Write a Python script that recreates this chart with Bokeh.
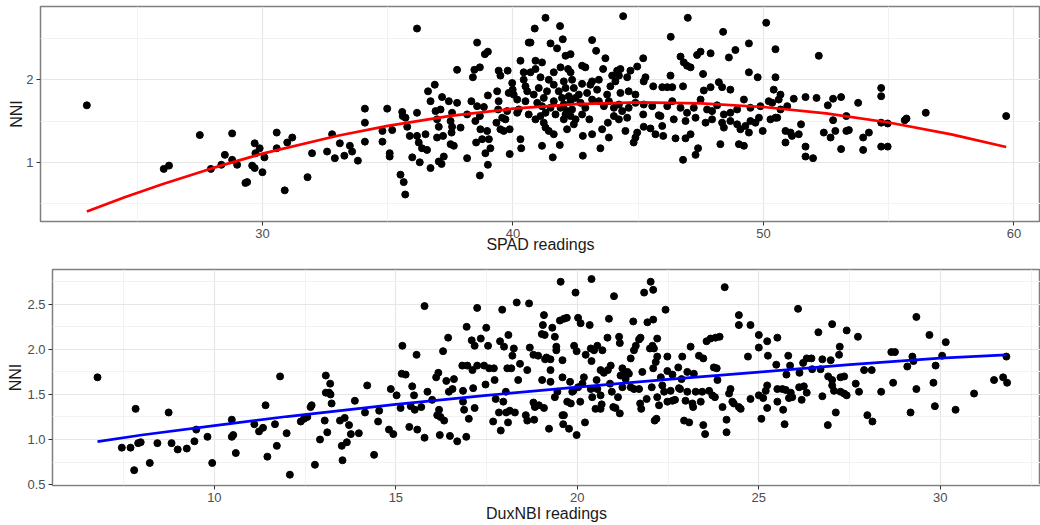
from bokeh.plotting import figure
from bokeh.layouts import column, row
from bokeh.models import FixedTicker, Range1d, PrintfTickFormatter
from bokeh.embed import file_html
from bokeh.resources import INLINE

# ---------------- data: SPAD panel ----------------
spad_x = [
    22.99, 26.06, 26.27, 27.50, 28.79, 27.94, 28.36, 28.50, 28.79, 28.99, 29.32, 29.39, 29.59, 29.69, 29.69,
    29.72, 29.89, 30.08, 30.00, 30.57, 30.57,
    30.89, 30.99, 31.19, 31.80, 31.98, 32.58, 32.78, 32.89, 33.09, 33.27, 33.49, 33.58, 33.81, 34.09, 34.09,
    34.09, 34.79, 34.79, 34.98, 35.08, 35.08, 35.18, 35.51, 35.64, 35.70, 35.58, 35.60, 35.71, 35.78, 35.88,
    35.98, 36.17, 36.17, 36.17, 36.24, 36.28, 36.37, 36.51, 36.57, 36.61, 36.71, 36.71, 36.88, 36.91, 36.97,
    37.04, 36.97, 37.11, 37.15, 37.17, 37.21, 37.24, 37.04, 37.44, 37.51, 37.57, 37.57, 37.55, 37.51, 37.64,
    37.77, 37.77, 37.91, 38.17, 38.17, 38.34, 38.40, 38.46, 38.57, 38.68, 38.50, 38.53, 38.57, 38.70, 38.68,
    38.68, 38.77, 38.84, 38.88, 39.00, 38.90, 38.97, 39.00, 39.00, 39.04, 39.10, 39.37, 39.43, 39.43, 39.50,
    39.41, 39.34, 39.50, 39.57, 39.63, 39.70, 39.79, 39.83, 39.77, 39.87, 39.87, 39.97, 39.99, 40.03, 40.17,
    40.17, 40.30, 40.33, 40.30, 40.23, 40.43, 40.50, 40.50, 40.57, 40.63, 40.63, 40.43,
    41.30, 40.87, 40.70, 41.88, 41.50, 41.99, 41.76, 44.40, 46.98, 50.11, 46.30, 48.39, 43.16, 43.32, 42.30,
    42.10, 40.90, 41.16, 40.70, 40.90, 41.10, 41.43, 41.63, 41.90, 42.20, 42.30, 42.03, 42.36, 42.76, 42.89,
    42.43, 42.10, 42.76, 43.09, 43.16, 43.43, 43.60, 43.69, 43.96, 44.16, 44.29, 44.09, 44.23, 44.56, 44.69,
    44.96, 45.20, 45.29, 45.22, 44.89, 45.60, 45.96, 46.16, 46.36, 46.29, 46.69, 46.82, 46.95, 47.09, 46.79,
    47.35, 47.49, 47.89, 47.59, 47.62, 47.89, 48.22, 48.35, 48.62, 48.88, 49.42, 49.42, 48.68, 49.77, 50.48,
    50.48, 50.41,
    40.83, 41.23, 40.97, 41.16, 41.50, 41.63, 41.90, 42.03, 42.16, 42.36, 42.50, 42.63, 42.70, 42.89, 43.16,
    43.43, 43.63, 43.83, 44.03, 44.23, 44.36, 44.62, 44.89, 45.22, 45.56, 45.82, 46.16, 46.36, 46.69, 46.95,
    47.22, 47.49, 47.75, 47.95, 48.15, 48.42, 48.68, 48.95, 49.22, 49.48, 49.88, 50.21, 50.35,
    40.90, 41.10, 41.23, 41.30, 41.43, 41.16, 41.59, 41.63, 41.87, 42.03, 42.16, 42.30, 42.43, 42.50, 42.79,
    42.79, 43.05, 43.16, 43.49, 43.56, 43.83, 43.79, 44.03, 44.23, 44.49, 44.56, 44.82, 44.89, 44.96, 45.22,
    45.20, 45.49, 45.69, 45.96, 45.89, 46.00, 46.42, 46.49, 46.79, 46.89, 46.89, 47.09, 47.29, 47.29, 47.39,
    47.69, 47.95, 48.28, 48.35, 48.42, 48.68, 48.95, 49.02, 49.08, 49.22, 49.28, 49.42, 49.48, 49.68, 49.82,
    49.97, 50.28, 50.48,
    41.03, 41.36, 41.63, 41.83, 42.23, 41.96, 41.70, 41.30, 42.10, 42.30, 42.76, 42.96, 43.36, 43.76, 43.89,
    44.29, 44.62,
    50.68, 50.61, 50.95, 51.21, 50.68, 50.55, 50.88, 51.08, 50.88, 51.14, 51.41, 51.50, 51.68, 51.68, 51.68,
    51.98, 52.12, 52.21, 52.41, 52.57, 52.68, 52.78, 52.78, 52.87, 53.10, 53.10, 53.31, 53.31, 53.41, 53.78,
    53.98, 53.98, 54.21, 54.70, 54.70, 54.70, 54.70, 54.96, 54.96, 55.64, 55.71, 56.48, 59.69,
]
spad_nni = [
    1.69, 0.92, 0.96, 1.33, 1.35, 0.92, 0.97, 1.09, 1.03, 0.97, 0.75, 0.76, 0.96, 0.93, 1.23,
    1.11, 1.17, 1.06, 0.88, 1.36, 1.17,
    0.66, 1.24, 1.30, 0.82, 1.11, 1.13, 1.34, 1.05, 1.23, 1.08, 1.20, 1.13, 1.02, 1.65, 1.48,
    1.25, 1.38, 1.25, 1.65, 1.11, 1.07, 1.39, 0.85, 0.76, 0.61, 1.61, 1.56, 1.54, 1.43, 1.32,
    1.06, 2.62, 1.60, 1.32, 1.24, 1.00, 1.17, 1.34, 1.15, 1.86, 1.74, 0.93, 1.94, 1.62, 1.52,
    1.43, 1.30, 1.64, 0.98, 1.79, 1.32, 1.07, 1.01, 1.74, 1.50, 1.60, 1.43, 1.36, 1.22, 1.20,
    2.12, 1.72, 1.42, 1.58, 1.05, 1.74, 2.03, 2.12, 2.45, 2.15, 1.50, 1.24, 1.68, 1.40, 1.56,
    0.84, 1.28, 1.67, 2.31, 2.34, 1.11, 1.38, 1.81, 0.97, 1.28, 1.17, 1.86, 2.11, 1.74, 2.05,
    1.64, 1.48, 1.40, 1.54, 1.38, 1.52, 2.11, 1.84, 1.62, 1.40, 1.10, 1.96, 1.88, 1.82, 1.76,
    1.60, 2.23, 1.17, 1.28, 1.64, 2.00, 1.92, 1.74, 1.86, 2.45, 1.58, 2.09,
    2.75, 2.62, 2.45, 2.65, 2.44, 2.49, 2.38, 2.77, 2.75, 2.69, 2.52, 2.58, 2.48, 2.35, 2.31,
    2.29, 2.23, 2.21, 2.09, 2.13, 2.03, 2.00, 2.09, 2.15, 2.13, 2.09, 1.98, 2.00, 2.17, 2.15,
    1.90, 1.90, 1.95, 1.94, 1.98, 2.00, 2.13, 2.26, 2.05, 2.11, 2.13, 1.98, 2.05, 2.03, 2.11,
    2.16, 2.26, 2.03, 1.98, 1.82, 1.92, 1.91, 1.91, 1.91, 2.05, 2.28, 2.21, 2.17, 2.15, 1.92,
    2.30, 2.34, 2.32, 2.07, 1.87, 1.91, 1.97, 1.91, 2.27, 2.36, 2.44, 2.09, 1.88, 2.03, 2.37,
    2.03, 1.88,
    1.82, 1.78, 1.72, 1.68, 1.66, 1.74, 1.66, 1.70, 1.62, 1.64, 1.78, 1.82, 1.72, 1.66, 1.76,
    1.74, 1.68, 1.74, 1.66, 1.70, 1.62, 1.66, 1.72, 1.70, 1.68, 1.57, 1.68, 1.74, 1.66, 1.60,
    1.66, 1.76, 1.64, 1.62, 1.69, 1.58, 1.60, 1.64, 1.76, 1.66, 1.68, 1.74, 1.72,
    1.52, 1.56, 1.48, 1.42, 1.38, 1.20, 1.06, 1.34, 1.21, 1.52, 1.40, 1.56, 1.46, 1.52, 1.32,
    1.08, 1.52, 1.34, 1.17, 1.40, 1.30, 1.48, 1.56, 1.52, 1.38, 1.54, 1.24, 1.30, 1.36, 1.43,
    1.58, 1.41, 1.34, 1.44, 1.56, 1.32, 1.52, 1.29, 1.03, 1.50, 1.29, 1.34, 1.54, 1.09, 1.17,
    1.48, 1.52, 1.22, 1.48, 1.42, 1.50, 1.46, 1.22, 1.40, 1.20, 1.44, 1.36, 1.50, 1.48, 1.54,
    1.38, 1.52, 1.54,
    1.90, 1.86, 1.94, 1.86, 1.80, 1.78, 1.58, 1.60, 1.58, 1.74, 1.58, 1.84, 1.88, 1.82, 1.92,
    1.84, 1.86,
    1.82, 1.76, 1.68, 1.77, 1.64, 1.54, 1.38, 1.36, 1.24, 1.32, 1.34, 1.46, 1.79, 1.19, 1.07,
    1.05, 1.78, 2.29, 1.36, 1.69, 1.30, 1.51, 1.77, 1.38, 1.79, 1.16, 1.56, 1.38, 1.39, 1.72,
    1.30, 1.15, 1.36, 1.90, 1.80, 1.48, 1.19, 1.47, 1.19, 1.51, 1.53, 1.60, 1.56,
]
# fitted quadratic trend
spad_fit_x = [22.99, 24.5, 26.0, 28.0, 30.0, 33.0, 35.0, 37.5, 40.0, 42.5, 45.0, 47.5, 50.0, 52.5, 55.0, 57.5, 59.69]
spad_fit_y = [0.405, 0.576, 0.735, 0.929, 1.105, 1.322, 1.442, 1.562, 1.649, 1.704, 1.725, 1.714, 1.670, 1.592, 1.482, 1.339, 1.186]

# ---------------- data: DuxNBI panel ----------------
dux_x = [
    6.78, 7.45, 7.69, 7.83, 7.79, 7.90, 7.97, 8.22, 8.43, 8.74, 8.82, 8.99, 9.24, 9.45, 9.50,
    9.81, 9.94, 10.48, 10.48, 10.52, 10.59, 11.10, 11.23, 11.34, 11.41, 11.46, 11.67, 11.72, 11.81,
    11.99, 12.08, 12.38, 12.47, 12.56, 12.65, 12.68, 12.77, 12.91, 13.04, 13.07, 13.07, 13.11, 13.16, 13.19,
    13.20, 13.23, 13.46, 13.51, 13.53, 13.59, 13.65, 13.71, 13.76, 13.87, 13.98, 14.15, 14.21, 14.40, 14.51,
    14.54, 14.81, 14.86, 14.93, 15.02, 15.13, 15.18, 15.16, 15.27, 15.37, 15.41, 15.45, 15.50, 15.52, 15.57,
    15.59, 15.70, 15.79, 15.79, 15.87, 16.00, 16.11, 16.17, 16.14, 16.19, 16.21, 16.23, 16.30, 16.33, 16.39,
    16.44, 16.46, 16.49, 16.56, 16.60, 16.69, 16.85, 16.85, 16.83, 16.88, 16.94, 16.95, 16.97, 17.01, 17.09,
    17.11, 17.13, 17.17, 17.17, 17.24, 17.24, 17.34, 17.43, 17.47, 17.49, 17.54, 17.57, 17.68, 17.70, 17.72,
    17.75, 17.84, 17.87, 17.89, 17.93, 17.96, 17.98, 18.03, 18.04, 18.07, 18.09, 18.10, 18.14, 18.18, 18.21,
    18.25, 18.28, 18.33, 18.37, 18.42, 18.58, 18.62, 18.62, 18.67, 18.69,
    19.08, 19.05, 19.02, 19.10, 19.31, 19.38, 19.42, 19.42, 18.79, 18.92, 19.11, 19.15, 19.26, 19.26, 19.26,
    19.03, 19.54, 19.52, 19.63, 19.71, 19.59, 19.59, 19.80, 19.86, 19.95, 19.91, 19.98, 20.02, 20.09, 20.23,
    20.39, 20.34, 20.37, 20.39, 20.46, 20.55, 20.69, 20.64, 20.83, 20.87, 21.01, 20.92, 21.15, 21.17, 21.24,
    21.28, 21.42, 21.47, 21.54, 21.56, 21.61, 21.70, 21.74, 21.84, 21.93, 22.00, 22.02, 22.09, 22.09, 22.07,
    22.11, 22.20, 22.20, 22.16, 22.43, 22.48, 22.48, 22.62, 22.89, 23.12, 22.78, 23.03, 23.35, 23.47, 23.56,
    23.67, 23.81, 23.92, 23.84, 23.76, 24.06, 24.45, 24.45, 24.77, 24.70, 25.00, 25.00, 25.23, 25.25, 25.51,
    25.48,
    18.79, 18.83, 18.94, 19.08, 18.81, 19.22, 19.38, 19.45, 19.59, 19.63, 19.61, 19.77, 19.72, 19.82, 19.89,
    20.08, 19.98, 20.02, 20.14, 20.21, 20.18, 20.37, 20.41, 20.50, 20.53, 20.55, 20.64, 20.67, 20.64, 20.73,
    20.84, 20.90, 20.95, 20.99, 21.05, 21.12, 21.17, 21.19, 21.24, 21.33, 21.38, 21.47, 21.56, 21.70, 21.73,
    21.76, 21.79, 21.91, 22.05, 22.09, 22.13, 22.18, 22.20, 22.25, 22.30, 22.34, 22.39, 22.48, 22.57, 22.62,
    22.69, 22.80, 22.83, 22.87, 22.94, 22.98, 23.03, 23.08, 23.17, 23.19, 23.21, 23.26, 23.40, 23.44, 23.47,
    23.52, 23.63, 23.72, 23.79, 23.86, 24.00, 24.11, 24.11, 24.18, 24.22, 24.27, 24.31, 24.45, 24.50, 24.77,
    25.00, 25.07, 25.12, 25.19, 25.23, 25.23, 25.51, 25.51,
    26.08, 27.02, 27.42, 26.64, 27.73, 27.23, 27.21, 25.81, 26.32, 26.45, 26.75, 26.98, 25.86, 26.22, 25.76,
    26.12, 26.47, 26.70, 26.91, 27.02, 27.25, 27.35, 27.90, 28.11, 28.65, 28.75, 29.23, 29.26, 29.09, 29.70,
    30.15, 30.05, 29.87, 29.34, 31.82, 31.48, 31.73, 31.84, 30.93, 30.42, 29.85, 29.81, 29.34, 28.70, 29.18,
    28.37, 28.13, 27.99, 27.76, 27.67, 27.42, 27.35, 27.25, 27.12, 27.07, 27.02, 26.90, 26.75, 26.32, 26.24,
    26.18, 26.11, 25.92, 25.83, 25.74, 25.65, 25.71, 25.67, 25.88,
]
dux_nni = [
    1.69, 0.91, 0.91, 1.34, 0.66, 0.96, 0.97, 0.74, 0.96, 1.30, 0.96, 0.89, 0.90, 0.98, 1.11,
    1.03, 0.74, 1.22, 1.03, 1.05, 0.85, 1.17, 1.09, 1.13, 1.38, 0.81, 1.17, 0.93, 1.70,
    1.07, 0.61, 1.20, 1.23, 1.25, 1.36, 1.38, 0.72, 1.00, 1.21, 1.71, 1.52, 1.08, 1.52, 1.62,
    1.50, 1.40, 1.21, 0.93, 0.77, 1.24, 0.97, 1.16, 1.06, 1.43, 1.07, 1.30, 1.60, 0.83, 1.20,
    1.32, 1.11, 1.56, 1.06, 1.49, 1.35, 2.04, 1.73, 1.72, 1.14, 1.37, 1.59, 1.49, 1.33, 1.94,
    1.11, 1.36, 2.48, 1.02, 1.53, 1.44, 1.69, 1.74, 1.27, 1.33, 1.05, 1.25, 1.98, 1.21, 1.65,
    2.13, 1.53, 1.04, 1.56, 1.67, 0.98, 1.54, 1.42, 1.82, 1.33, 1.03, 2.25, 1.82, 1.23, 2.10,
    1.77, 1.57, 1.35, 2.04, 2.46, 1.82, 2.12, 1.82, 1.61, 2.24, 2.04, 1.79, 1.20, 1.79, 1.66,
    1.45, 1.30, 2.09, 1.10, 2.44, 1.42, 2.03, 1.53, 1.30, 1.79, 1.19, 2.16, 1.32, 1.79, 1.93,
    2.01, 1.30, 2.52, 1.66, 1.84, 1.27, 1.77, 1.21, 2.51, 2.02,
    2.38, 2.27, 2.17, 2.16, 2.24, 2.14, 2.03, 1.99, 1.94, 1.93, 1.89, 1.91, 1.89, 1.77, 1.64,
    1.66, 2.75, 2.32, 2.34, 2.35, 1.88, 1.69, 1.64, 1.53, 2.63, 2.04, 1.98, 2.35, 2.29, 1.94,
    2.78, 2.27, 2.01, 1.87, 1.99, 2.04, 1.99, 1.77, 2.13, 2.34, 2.59, 1.82, 2.14, 2.07, 1.79,
    1.73, 1.73, 1.90, 2.31, 1.99, 2.04, 2.11, 2.13, 2.63, 2.30, 2.01, 2.75, 2.66, 2.33, 2.04,
    2.01, 1.92, 2.12, 1.86, 2.44, 1.92, 1.76, 1.72, 1.92, 2.03, 1.80, 1.75, 1.93, 1.90, 2.09,
    2.12, 2.13, 2.14, 1.79, 1.80, 2.69, 2.38, 2.27, 2.27, 1.92, 2.16, 2.02, 2.09, 1.93, 2.13,
    1.83,
    1.41, 1.36, 1.38, 1.35, 1.22, 1.12, 1.47, 1.53, 1.27, 1.27, 1.17, 1.12, 1.42, 1.40, 1.54,
    1.42, 1.05, 1.58, 1.62, 1.19, 1.69, 1.56, 1.47, 1.34, 1.66, 1.56, 1.49, 1.39, 1.34, 1.74,
    1.77, 1.62, 1.53, 1.36, 1.35, 1.47, 1.29, 1.71, 1.58, 1.67, 1.75, 1.58, 1.56, 1.56, 1.40,
    1.34, 1.75, 1.45, 1.58, 1.79, 1.21, 1.23, 1.47, 1.38, 1.69, 1.60, 1.53, 1.42, 1.54, 1.43,
    1.44, 1.57, 1.56, 1.67, 1.21, 1.43, 1.53, 1.19, 1.40, 1.36, 1.73, 1.53, 1.42, 1.53, 1.16,
    1.06, 1.54, 1.49, 1.47, 1.66, 1.36, 1.22, 1.08, 1.51, 1.56, 1.42, 1.40, 1.36, 1.34, 1.45,
    1.49, 1.23, 1.46, 1.54, 1.35, 1.60, 1.56, 1.42,
    2.45, 2.28, 2.21, 2.19, 2.14, 2.03, 1.94, 1.93, 1.90, 1.90, 1.89, 1.88, 1.82, 1.85, 1.72,
    1.74, 1.78, 1.78, 1.70, 1.66, 1.69, 1.70, 1.77, 1.77, 1.97, 1.97, 1.92, 1.87, 1.81, 2.16,
    2.08, 1.93, 1.82, 2.36, 1.92, 1.66, 1.69, 1.63, 1.51, 1.33, 1.37, 1.63, 1.56, 1.63, 1.30,
    1.53, 1.20, 1.27, 1.53, 1.62, 1.49, 1.51, 1.53, 1.30, 1.54, 1.60, 1.16, 1.48, 1.52, 1.59,
    1.44, 1.58, 1.47, 1.46, 1.55, 1.56, 1.17, 1.33, 1.52,
]
# fitted trend
dux_fit_x = [6.78, 8.0, 10.0, 12.0, 15.0, 17.5, 20.0, 22.5, 25.0, 27.5, 30.0, 31.82]
dux_fit_y = [0.977, 1.05, 1.155, 1.255, 1.389, 1.49, 1.581, 1.668, 1.748, 1.83, 1.903, 1.94]

FONT = "Liberation Sans"


def make_panel(height, frame_left, top_border, xr, yr, xt, xmin, yt, ymin, xlabel,
               x_label_standoff, y_label_standoff, yfmt=None):
    p = figure(width=1040, height=height, output_backend="svg", toolbar_location=None,
               x_range=Range1d(*xr), y_range=Range1d(*yr),
               min_border_left=frame_left, min_border_right=0,
               min_border_top=top_border, min_border_bottom=0)
    p.background_fill_color = "white"
    p.border_fill_color = "white"
    p.outline_line_color = "#7f7f7f"
    p.outline_line_width = 1.5

    p.xaxis.ticker = FixedTicker(ticks=xt, minor_ticks=xmin)
    p.yaxis.ticker = FixedTicker(ticks=yt, minor_ticks=ymin)
    if yfmt:
        p.yaxis.formatter = PrintfTickFormatter(format=yfmt)

    for ax in (p.xaxis, p.yaxis):
        ax.axis_line_color = None
        ax.major_tick_line_color = "#333333"
        ax.major_tick_out = 4
        ax.major_tick_in = 0
        ax.minor_tick_line_color = None
        ax.major_label_text_font = FONT
        ax.major_label_text_font_size = "13px"
        ax.major_label_text_color = "#4d4d4d"
        ax.axis_label_text_font = FONT
        ax.axis_label_text_font_size = "16px"
        ax.axis_label_text_font_style = "normal"
        ax.axis_label_text_color = "#1a1a1a"
        ax.major_label_standoff = 3
    p.xaxis.axis_label_standoff = x_label_standoff
    p.yaxis.axis_label_standoff = y_label_standoff

    p.xaxis.axis_label = xlabel
    p.yaxis.axis_label = "NNI"

    for g in (p.xgrid, p.ygrid):
        g.grid_line_color = "#e6e6e6"
        g.grid_line_width = 1.2
        g.minor_grid_line_color = "#f2f2f2"
        g.minor_grid_line_width = 1
    return p


p1 = make_panel(255, 40, 6, (21.14, 61.06), (0.283, 2.887),
                [30, 40, 50, 60], [25, 35, 45, 55],
                [1, 2], [0.5, 1.5, 2.5], "SPAD readings", -5, -2)
p1.scatter(spad_x, spad_nni, size=7, color="black")
p1.line(spad_fit_x, spad_fit_y, line_color="#ff0000", line_width=2.7)

p2 = make_panel(269, 52, 14, (5.54, 32.76), (0.49, 2.886),
                [10, 15, 20, 25, 30], [7.5, 12.5, 17.5, 22.5, 27.5, 32.5],
                [0.5, 1.0, 1.5, 2.0, 2.5], [0.75, 1.25, 1.75, 2.25, 2.75], "DuxNBI readings",
                0, 0, yfmt="%.1f")
p2.scatter(dux_x, dux_nni, size=7, color="black")
p2.line(dux_fit_x, dux_fit_y, line_color="#0000ff", line_width=2.7)

layout = column(row(p1), row(p2))
open("out.html", "w").write(file_html(layout, INLINE))
